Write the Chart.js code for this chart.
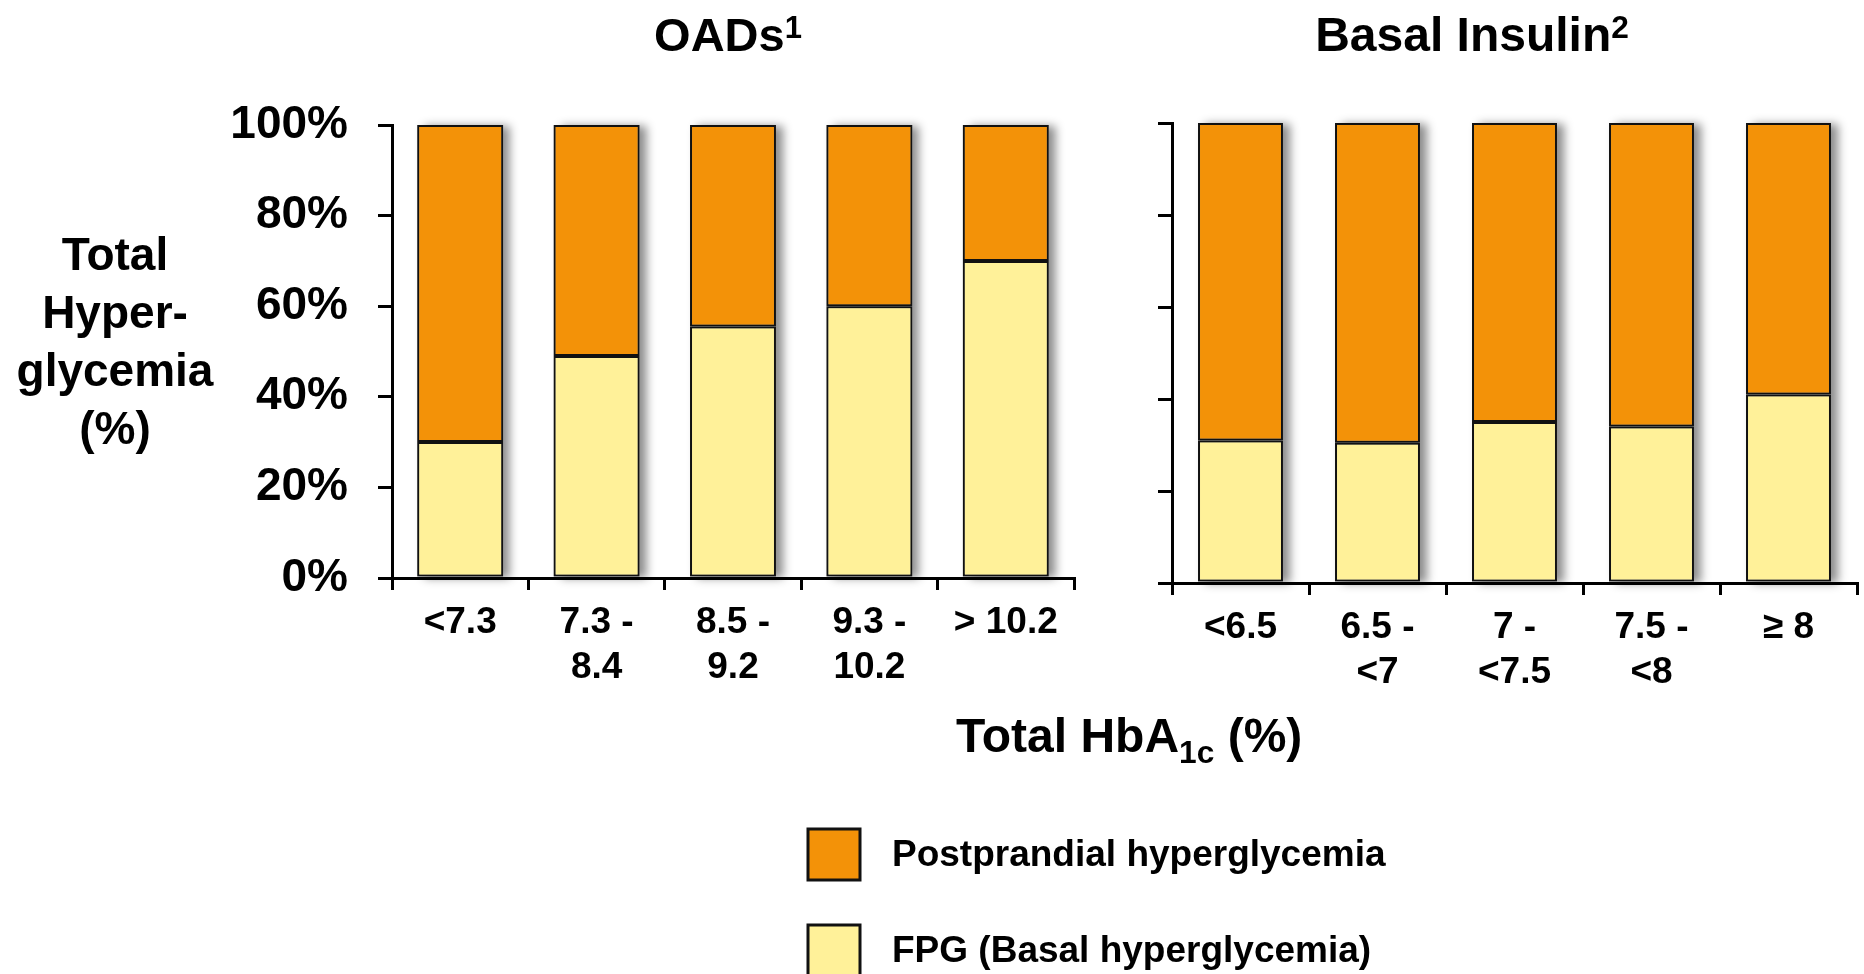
<!DOCTYPE html>
<html>
<head>
<meta charset="utf-8">
<script src="https://cdn.jsdelivr.net/npm/chart.js@4.4.0/dist/chart.umd.min.js"></script>
<style>
  body { margin: 0; background: #fff; }
  #wrap { position: relative; width: 1864px; height: 974px; }
  #wrap canvas { position: absolute; left: 0; top: 0; }
</style>
</head>
<body>
<div id="wrap">
  <canvas id="oadChart" width="1864" height="974"></canvas>
  <canvas id="insulinChart" width="1864" height="974"></canvas>
</div>
<script>
// data (% of total hyperglycemia)
var oadLabels = ['<7.3', ['7.3 -', '8.4'], ['8.5 -', '9.2'], ['9.3 -', '10.2'], '> 10.2'];
var oadFpg = [30, 49, 55.5, 60, 70];
var oadPostprandial = [70, 51, 44.5, 40, 30];

var insulinLabels = ['<6.5', ['6.5 -', '<7'], ['7 -', '<7.5'], ['7.5 -', '<8'], '\u2265 8'];
var insulinFpg = [31, 30.5, 35, 34, 41];
var insulinPostprandial = [69, 69.5, 65, 66, 59];

var yTickValues = [0, 20, 40, 60, 80, 100];
var seriesNames = ['FPG (Basal hyperglycemia)', 'Postprandial hyperglycemia'];
var seriesColors = ['#FFF199', '#F39208'];

var FONT = '"Liberation Sans", Arial, sans-serif';

// draws a line of text made of runs, runs can be raised (sup) or lowered (sub)
function drawRuns(ctx, runs, x, y, size, align) {
    var total = 0;
    runs.forEach(function (r) {
        var s = r.shift ? size * 0.66 : size;
        ctx.font = 'bold ' + s + 'px ' + FONT;
        r.w = ctx.measureText(r.text).width;
        total += r.w;
    });
    var cx = align === 'center' ? x - total / 2 : x;
    ctx.textAlign = 'left';
    runs.forEach(function (r) {
        var s = r.shift ? size * 0.66 : size;
        ctx.font = 'bold ' + s + 'px ' + FONT;
        var dy = r.shift === 'sup' ? -size * 0.28 : (r.shift === 'sub' ? size * 0.22 : 0);
        ctx.fillText(r.text, cx, y + dy);
        cx += r.w;
    });
}

// titles, axis titles and the shared legend
var textPlugin = {
    id: 'pageText',
    afterDraw: function (chart, args, opts) {
        if (!opts.show) return;
        var ctx = chart.ctx;
        ctx.save();
        ctx.fillStyle = '#000';
        ctx.textBaseline = 'alphabetic';

        drawRuns(ctx, [{ text: 'OADs' }, { text: '1', shift: 'sup' }], 728, 51, 47, 'center');
        drawRuns(ctx, [{ text: 'Basal Insulin' }, { text: '2', shift: 'sup' }], 1472, 51, 48, 'center');
        drawRuns(ctx, [{ text: 'Total HbA' }, { text: '1c', shift: 'sub' }, { text: ' (%)' }], 956, 752, 48, 'left');

        // y axis title, four lines
        ctx.textAlign = 'center';
        ctx.textBaseline = 'middle';
        ctx.font = 'bold 46px ' + FONT;
        ['Total', 'Hyper-', 'glycemia', '(%)'].forEach(function (line, i) {
            ctx.fillText(line, 115, 257 + i * 58);
        });

        // legend, top series first
        var ds = chart.data.datasets.slice().reverse();
        ctx.textAlign = 'left';
        ctx.font = 'bold 37px ' + FONT;
        ds.forEach(function (d, i) {
            var top = 829 + i * 96;
            ctx.fillStyle = d.backgroundColor;
            ctx.fillRect(808, top, 52, 51);
            ctx.lineWidth = 3;
            ctx.strokeStyle = '#111';
            ctx.strokeRect(808, top, 52, 51);
            ctx.fillStyle = '#000';
            ctx.fillText(d.label, 892, top + 27);
        });
        ctx.restore();
    }
};

// soft grey shadow to the right of each stacked bar, drawn under the bars
// (the bar element clips its own drawing, so the shadow is painted first)
var shadowPlugin = {
    id: 'barShadow',
    beforeDatasetsDraw: function (chart) {
        var ctx = chart.ctx;
        var bottomMeta = chart.getDatasetMeta(0);
        var topMeta = chart.getDatasetMeta(chart.data.datasets.length - 1);
        ctx.save();
        ctx.shadowColor = 'rgba(0,0,0,0.45)';
        ctx.shadowBlur = 9;
        ctx.shadowOffsetX = 7;
        ctx.shadowOffsetY = 1;
        ctx.fillStyle = '#888';
        bottomMeta.data.forEach(function (bar, i) {
            var top = topMeta.data[i];
            var w = bar.width;
            ctx.fillRect(bar.x - w / 2, top.y, w, bar.base - top.y);
        });
        ctx.restore();
    }
};

function makePanel(id, labels, fpg, post, cfg) {
    var ctx = document.getElementById(id).getContext('2d');
    return new Chart(ctx, {
        type: 'bar',
        data: {
            labels: labels,
            datasets: [{
                label: seriesNames[0],
                data: fpg,
                backgroundColor: seriesColors[0],
                borderColor: '#111',
                borderWidth: 2,
                borderSkipped: false
            }, {
                label: seriesNames[1],
                data: post,
                backgroundColor: seriesColors[1],
                borderColor: '#111',
                borderWidth: 2,
                borderSkipped: false
            }]
        },
        options: {
            responsive: false,
            animation: false,
            devicePixelRatio: 1,
            layout: {
                padding: { left: cfg.padLeft, right: cfg.padRight, top: cfg.top, bottom: 0 }
            },
            datasets: {
                bar: { barPercentage: cfg.barPct, categoryPercentage: 1.0 }
            },
            scales: {
                x: {
                    stacked: true,
                    grid: {
                        display: true,
                        offset: true,
                        drawOnChartArea: false,
                        drawTicks: true,
                        tickLength: 12,
                        color: '#000',
                        lineWidth: 3
                    },
                    border: { display: true, color: '#000', width: 3 },
                    ticks: {
                        color: '#000',
                        autoSkip: false,
                        maxRotation: 0,
                        padding: 10,
                        font: { family: FONT, size: 37, weight: 'bold', lineHeight: 1.22 }
                    },
                    afterFit: function (scale) {
                        scale.height = 974 - cfg.bottom;
                    }
                },
                y: {
                    stacked: true,
                    min: 0,
                    max: 100,
                    afterBuildTicks: function (scale) {
                        scale.ticks = yTickValues.map(function (v) { return { value: v }; });
                    },
                    grid: {
                        display: true,
                        drawOnChartArea: false,
                        drawTicks: true,
                        tickLength: 14,
                        color: '#000',
                        lineWidth: 3
                    },
                    border: { display: true, color: '#000', width: 3 },
                    ticks: {
                        color: '#000',
                        padding: 30,
                        font: { family: FONT, size: 46, weight: 'bold' },
                        callback: function (value) {
                            return cfg.yLabels ? value + '%' : '';
                        }
                    },
                    afterFit: function (scale) {
                        scale.width = cfg.axisWidth;
                    }
                }
            },
            plugins: {
                legend: { display: false },
                title: { display: false },
                tooltip: { enabled: false },
                pageText: { show: cfg.text }
            }
        },
        plugins: [shadowPlugin, textPlugin]
    });
}

makePanel('oadChart', oadLabels, oadFpg, oadPostprandial, {
    padLeft: 0, axisWidth: 392, padRight: 1864 - 1074, top: 125, bottom: 578,
    barPct: 0.63, yLabels: true, text: true
});

makePanel('insulinChart', insulinLabels, insulinFpg, insulinPostprandial, {
    padLeft: 1100, axisWidth: 72, padRight: 1864 - 1857, top: 123, bottom: 583,
    barPct: 0.62, yLabels: false, text: false
});
</script>
</body>
</html>
